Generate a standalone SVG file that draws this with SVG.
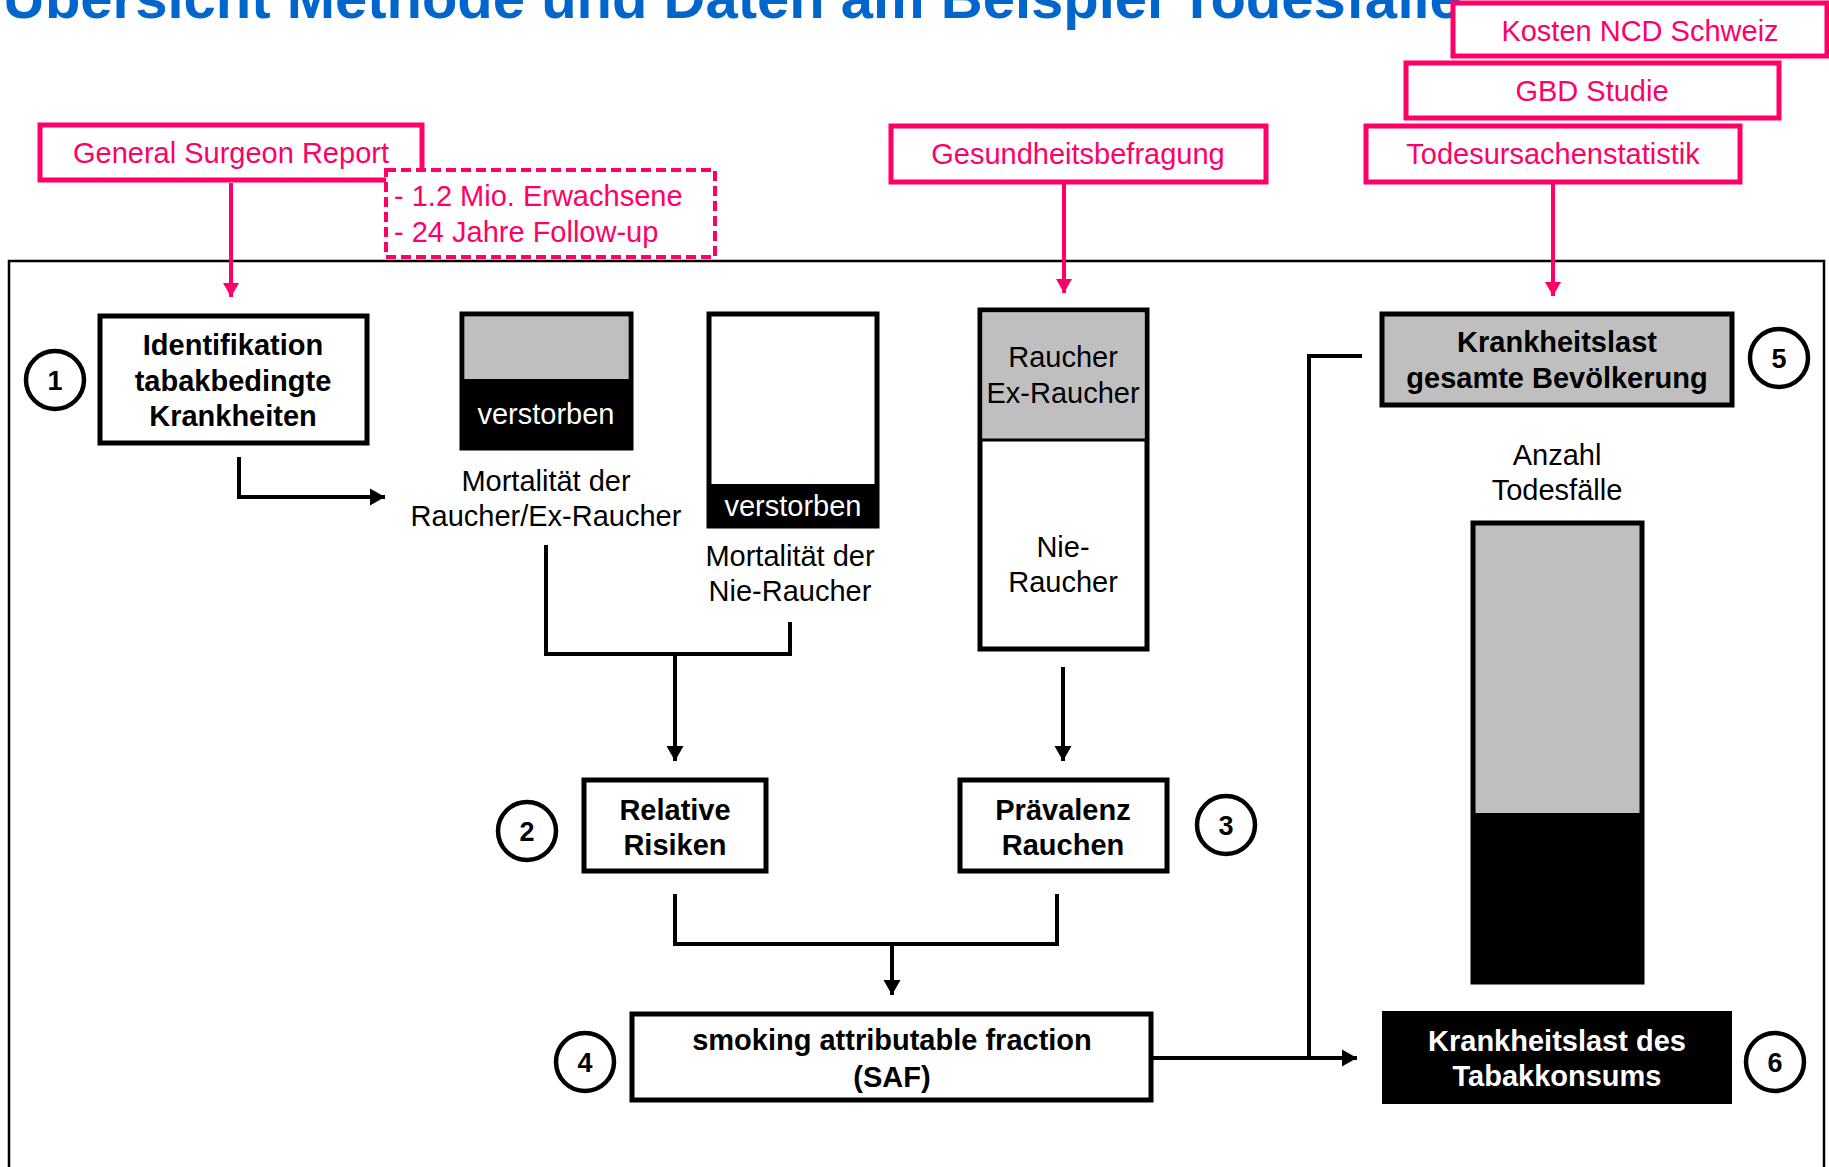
<svg xmlns="http://www.w3.org/2000/svg" width="1829" height="1167" viewBox="0 0 1829 1167">
<style>
.t{font-family:"Liberation Sans",Arial,sans-serif;font-size:29px;text-anchor:middle}
.b{font-weight:bold}
.w{fill:#fff}
.pk{fill:#FF0066}
.pbox{fill:#fff;stroke:#FF0066;stroke-width:5}
.box{fill:#fff;stroke:#000;stroke-width:5}
.gray{fill:#BFBFBF}
.blk{fill:#000}
.circ{fill:#fff;stroke:#000;stroke-width:4.5}
.num{font-family:"Liberation Sans",Arial,sans-serif;font-size:27px;font-weight:bold;text-anchor:middle}
.con{fill:none;stroke:#000;stroke-width:4}
.pcon{fill:none;stroke:#FF0066;stroke-width:4}
</style>
<defs>
<marker id="ah" markerUnits="userSpaceOnUse" markerWidth="18" markerHeight="18" refX="15" refY="9" orient="auto"><path d="M0,0.5 L15,9 L0,17.5 Z" fill="#000"/></marker>
<marker id="ahp" markerUnits="userSpaceOnUse" markerWidth="18" markerHeight="18" refX="14" refY="9" orient="auto"><path d="M0,1 L14,9 L0,17 Z" fill="#FF0066"/></marker>
</defs>
<rect width="1829" height="1167" fill="#fff"/>
<text x="3" y="18" font-family="Liberation Sans,Arial,sans-serif" font-size="58" font-weight="bold" fill="#0066CC">Übersicht Methode und Daten am Beispiel Todesfälle</text>
<rect x="9" y="261" width="1815" height="1000" fill="none" stroke="#000" stroke-width="2.5"/>

<g id="src-kosten"><rect class="pbox" x="1453" y="3" width="374" height="53"/><text class="t pk" x="1640" y="41">Kosten NCD Schweiz</text></g>
<g id="src-gbd"><rect class="pbox" x="1406" y="63" width="373" height="55"/><text class="t pk" x="1592" y="101">GBD Studie</text></g>
<g id="src-gsr"><rect class="pbox" x="40" y="125" width="382" height="55"/><text class="t pk" x="231" y="163">General Surgeon Report</text></g>
<g id="src-gsr-note"><rect x="386" y="170" width="329" height="87" fill="#fff" stroke="#FF0066" stroke-width="4" stroke-dasharray="10,5"/><text class="t pk" x="394" y="206" text-anchor="start" style="text-anchor:start">- 1.2 Mio. Erwachsene</text><text class="t pk" x="394" y="242" style="text-anchor:start">- 24 Jahre Follow-up</text></g>
<g id="src-gesund"><rect class="pbox" x="891" y="126" width="375" height="56"/><text class="t pk" x="1078" y="164">Gesundheitsbefragung</text></g>
<g id="src-todes"><rect class="pbox" x="1366" y="126" width="374" height="56"/><text class="t pk" x="1553" y="164">Todesursachenstatistik</text></g>

<g id="connectors">
<path class="pcon" d="M231,183 V297" marker-end="url(#ahp)"/>
<path class="pcon" d="M1064,184 V293" marker-end="url(#ahp)"/>
<path class="pcon" d="M1553,184 V296" marker-end="url(#ahp)"/>
<path class="con" d="M239,457 V497 H385" marker-end="url(#ah)"/>
<path class="con" d="M546,545 V654 H790 V622"/>
<path class="con" d="M675,654 V761" marker-end="url(#ah)"/>
<path class="con" d="M1063,667 V761" marker-end="url(#ah)"/>
<path class="con" d="M675,894 V944 H1057 V894"/>
<path class="con" d="M892,944 V995" marker-end="url(#ah)"/>
<path class="con" d="M1151,1058 H1357" marker-end="url(#ah)"/>
<path class="con" d="M1362,356 H1309 V1058"/>
</g>

<g id="n1"><rect class="box" x="100" y="316" width="267" height="127"/><text class="t b" x="233" y="355">Identifikation</text><text class="t b" x="233" y="391">tabakbedingte</text><text class="t b" x="233" y="426">Krankheiten</text></g>
<g id="c1"><circle class="circ" cx="55" cy="380" r="29"/><text class="num" x="55" y="390">1</text></g>

<g id="mort-raucher"><rect class="box" x="462" y="314" width="169" height="134"/><rect class="gray" x="465" y="317" width="163" height="62"/><rect class="blk" x="462" y="379" width="169" height="69"/><text class="t w" x="546" y="424">verstorben</text><text class="t" x="546" y="491">Mortalität der</text><text class="t" x="546" y="526">Raucher/Ex-Raucher</text></g>

<g id="mort-nie"><rect class="box" x="709" y="314" width="168" height="212"/><rect class="blk" x="709" y="484" width="168" height="42"/><text class="t w" x="793" y="516">verstorben</text><text class="t" x="790" y="566">Mortalität der</text><text class="t" x="790" y="601">Nie-Raucher</text></g>

<g id="raucher"><rect class="box" x="980" y="310" width="167" height="339"/><rect class="gray" x="982.5" y="312.5" width="162" height="127.5"/><line x1="980" y1="440" x2="1147" y2="440" stroke="#000" stroke-width="3"/><text class="t" x="1063" y="367">Raucher</text><text class="t" x="1063" y="403">Ex-Raucher</text><text class="t" x="1063" y="557">Nie-</text><text class="t" x="1063" y="592">Raucher</text></g>

<g id="n2"><rect class="box" x="584" y="780" width="182" height="91"/><text class="t b" x="675" y="820">Relative</text><text class="t b" x="675" y="855">Risiken</text></g>
<g id="c2"><circle class="circ" cx="527" cy="831" r="29"/><text class="num" x="527" y="841">2</text></g>

<g id="n3"><rect class="box" x="960" y="780" width="207" height="91"/><text class="t b" x="1063" y="820">Prävalenz</text><text class="t b" x="1063" y="855">Rauchen</text></g>
<g id="c3"><circle class="circ" cx="1226" cy="825" r="29"/><text class="num" x="1226" y="835">3</text></g>

<g id="n4"><rect class="box" x="632" y="1014" width="519" height="86"/><text class="t b" x="892" y="1050">smoking attributable fraction</text><text class="t b" x="892" y="1087">(SAF)</text></g>
<g id="c4"><circle class="circ" cx="585" cy="1062" r="29"/><text class="num" x="585" y="1072">4</text></g>

<g id="n5"><rect class="box" x="1382" y="314" width="350" height="91" style="fill:#BFBFBF"/><text class="t b" x="1557" y="352">Krankheitslast</text><text class="t b" x="1557" y="388">gesamte Bevölkerung</text></g>
<g id="c5"><circle class="circ" cx="1779" cy="358" r="29"/><text class="num" x="1779" y="368">5</text></g>

<g id="anzahl"><text class="t" x="1557" y="465">Anzahl</text><text class="t" x="1557" y="500">Todesfälle</text><rect class="box" x="1473" y="523" width="169" height="459" style="fill:#BFBFBF"/><rect class="blk" x="1473" y="813" width="169" height="169"/></g>

<g id="n6"><rect x="1382" y="1011" width="350" height="93" fill="#000"/><text class="t b w" x="1557" y="1051">Krankheitslast des</text><text class="t b w" x="1557" y="1086">Tabakkonsums</text></g>
<g id="c6"><circle class="circ" cx="1775" cy="1062" r="29"/><text class="num" x="1775" y="1072">6</text></g>
</svg>
